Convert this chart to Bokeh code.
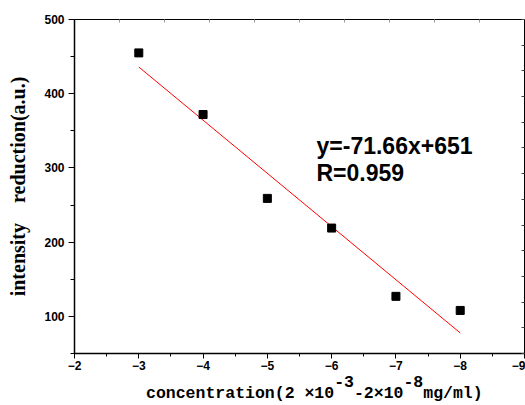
import numpy as np
from bokeh.plotting import figure
from bokeh.models import (Range1d, LinearAxis, SingleIntervalTicker, FixedTicker, Label,
                          CustomJSTickFormatter)
from bokeh.embed import file_html
from bokeh.resources import INLINE

# ---- data ----
conc = [-3, -4, -5, -6, -7, -8]
reduction = [455, 372, 259, 219, 127, 108]
fit_slope = 71.66
fit_intercept = 651
eq_text = "y=-71.66x+651"
r_text = "R=0.959"
y_label = "intensity\u00a0\u00a0\u00a0\u00a0reduction(a.u.)"
x_main = ["concentration(2 \u00d710", "-2\u00d710", "mg/ml)"]
x_sup = ["-3", "-8"]

NB = "\u00a0"
pad = NB * 3
line_sup = pad + NB * len(x_main[0]) + x_sup[0] + NB * len(x_main[1]) + x_sup[1] + NB * len(x_main[2])
line_main = pad + x_main[0] + NB * len(x_sup[0]) + x_main[1] + NB * len(x_sup[1]) + x_main[2]
x_label = line_sup + "\n" + line_main

p = figure(width=525, height=405, output_backend="svg", toolbar_location=None,
           x_range=Range1d(-2, -9), y_range=Range1d(50, 500),
           min_border_left=74, min_border_right=1, min_border_top=19,
           min_border_bottom=52)
p.xgrid.visible = False
p.ygrid.visible = False
p.outline_line_color = "black"
p.outline_line_width = 1
p.background_fill_color = "white"
p.border_fill_color = "white"

# fit line
fx = np.array([conc[0], conc[-1]], dtype=float)
fy = fit_slope * fx + fit_intercept
p.line(fx, fy, line_color="red", line_width=1)

# points
p.scatter(conc, reduction, marker="square", size=8, fill_color="black", line_color="black")

# bottom axis
xa = p.xaxis[0]
xa.ticker = SingleIntervalTicker(interval=1, num_minor_ticks=2)
xa.axis_line_color = "black"
xa.axis_line_width = 1.5
xa.major_tick_out = 5
xa.major_tick_in = 0
xa.minor_tick_out = 3
xa.minor_tick_in = 0
xa.major_tick_line_color = "black"
xa.minor_tick_line_color = "black"
xa.major_label_text_font = "Liberation Sans"
xa.major_label_text_font_style = "bold"
xa.major_label_text_font_size = "12px"
xa.major_label_text_color = "black"
xa.major_label_standoff = 2
xa.axis_label = x_label
xa.axis_label_text_font = "Liberation Mono"
xa.axis_label_text_font_style = "bold"
xa.axis_label_text_font_size = "16.5px"
xa.axis_label_text_color = "black"
xa.axis_label_text_line_height = 0.6
xa.axis_label_standoff = 0

# left axis
ya = p.yaxis[0]
ya.ticker = SingleIntervalTicker(interval=100, num_minor_ticks=2)
ya.axis_line_color = "black"
ya.axis_line_width = 1.5
ya.major_tick_out = 6
ya.major_tick_in = 0
ya.minor_tick_out = 4
ya.minor_tick_in = 0
ya.major_label_text_font = "Liberation Sans"
ya.major_label_text_font_style = "bold"
ya.major_label_text_font_size = "12px"
ya.major_label_text_color = "black"
ya.major_label_standoff = 4
ya.axis_label = y_label
ya.axis_label_text_font = "Liberation Serif"
ya.axis_label_text_font_style = "bold"
ya.axis_label_text_font_size = "20px"
ya.axis_label_text_color = "black"
ya.axis_label_standoff = 12

blank = CustomJSTickFormatter(code="return ''")

# top axis (faint ticks only)
top = LinearAxis(ticker=FixedTicker(ticks=list(np.linspace(-2, -9, 11)), minor_ticks=[]),
                 formatter=blank, major_label_text_color=None, major_label_standoff=0,
                 major_tick_in=3, major_tick_out=0, major_tick_line_color="#999999",
                 minor_tick_in=0, minor_tick_out=0,
                 axis_line_color="black", axis_line_width=1)
p.add_layout(top, "above")

# right axis (inward ticks only)
right = LinearAxis(ticker=FixedTicker(ticks=list(np.linspace(50, 500, 14)), minor_ticks=[]),
                   formatter=blank, major_label_text_color=None, major_label_standoff=0,
                   major_tick_in=3, major_tick_out=0, major_tick_line_color="#444444",
                   minor_tick_in=0, minor_tick_out=0,
                   axis_line_color="black", axis_line_width=1)
p.add_layout(right, "right")

# equation text
p.add_layout(Label(x=-2, y=500, x_offset=242, y_offset=-126, text=eq_text,
                   text_font="Liberation Sans", text_font_style="bold",
                   text_font_size="23px", text_color="black", text_baseline="alphabetic"))
p.add_layout(Label(x=-2, y=500, x_offset=242, y_offset=-153, text=r_text,
                   text_font="Liberation Sans", text_font_style="bold",
                   text_font_size="23px", text_color="black", text_baseline="alphabetic"))

open("out.html", "w").write(file_html(p, INLINE))
